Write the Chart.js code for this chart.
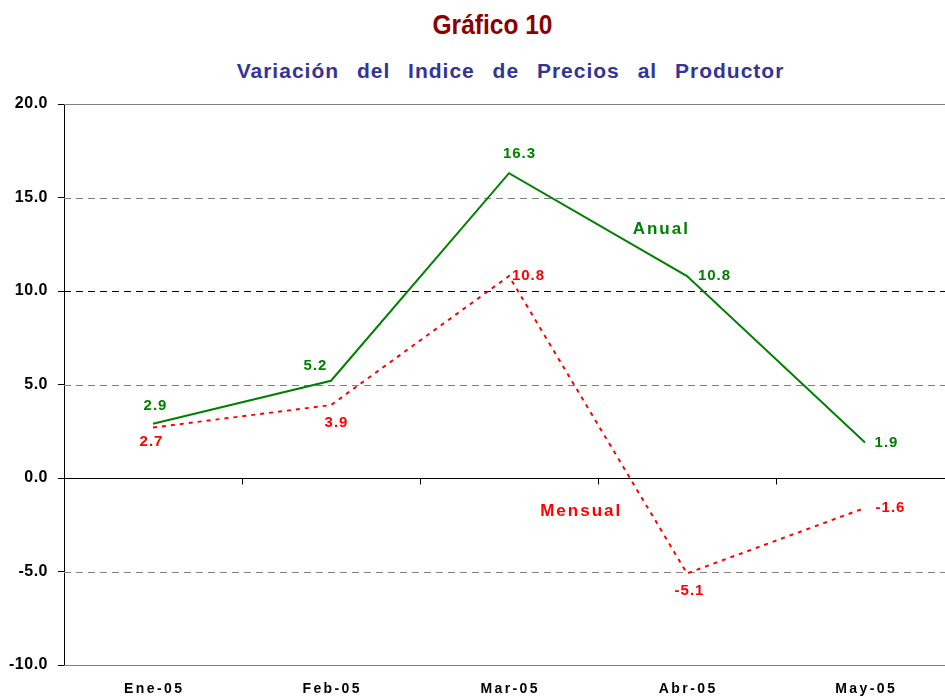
<!DOCTYPE html>
<html>
<head>
<meta charset="utf-8">
<script src="https://cdn.jsdelivr.net/npm/chart.js@4/dist/chart.umd.min.js"></script>
<style>
  body { margin: 0; width: 945px; height: 700px; overflow: hidden; background: #fff; position: relative; }
  #title { position: absolute; top: 11px; left: 20px; width: 945px; text-align: center;
    font-family: "Liberation Sans", Arial, sans-serif; line-height: 28px;
    font-weight: bold; font-size: 28px; color: #8b0000; transform: scaleX(0.876); }
  #subtitle { position: absolute; top: 60px; left: 38px; width: 945px; text-align: center;
    font-family: "Liberation Sans", Arial, sans-serif; font-weight: bold; font-size: 21px; line-height: 21px;
    letter-spacing: 1px; word-spacing: 11px; color: #333399; }
  #wrap { position: absolute; top: 0; left: 0; width: 960px; height: 700px; }
</style>
</head>
<body>
<div id="title">Gráfico 10</div>
<div id="subtitle">Variación del Indice de Precios al Productor</div>
<div id="wrap"><canvas id="chart"></canvas></div>
<script>
const months = ['Ene-05', 'Feb-05', 'Mar-05', 'Abr-05', 'May-05'];
const anual = [2.9, 5.2, 16.3, 10.8, 1.9];
const mensual = [2.7, 3.9, 10.8, -5.1, -1.6];
const yTicks = [20, 15, 10, 5, 0, -5, -10];

// label offsets (px) from each point
const anualOffsets = [[2, -18], [-16, -15], [10, -19], [27, 0], [21, 0]];
const mensualOffsets = [[-2, 14], [5, 18], [19, 0], [2, 17], [25, 0]];

const FONT = '"Liberation Sans", Arial, sans-serif';

const spacing = {
  id: 'spacing',
  beforeDraw(chart) { chart.ctx.letterSpacing = '0.5px'; }
};

const gridLines = {
  id: 'gridLines',
  beforeDatasetsDraw(chart) {
    const { ctx, chartArea, scales } = chart;
    const y = scales.y, x = scales.x;
    ctx.save();
    yTicks.forEach(v => {
      const py = Math.round(y.getPixelForValue(v)) + 0.5;
      let color = '#808080', dash = [7, 5];
      if (v === 20 || v === -10) dash = [];
      if (v === 0) { color = '#000'; dash = []; }
      if (v === 10) color = '#000';
      ctx.strokeStyle = color;
      ctx.lineWidth = 1;
      ctx.setLineDash(dash);
      ctx.beginPath();
      ctx.moveTo(chartArea.left, py);
      ctx.lineTo(chartArea.right, py);
      ctx.stroke();
    });
    // category tick marks on the zero line
    const zy = Math.round(y.getPixelForValue(0)) + 0.5;
    ctx.setLineDash([]);
    ctx.strokeStyle = '#000';
    for (let i = 1; i < months.length; i++) {
      const px = Math.round((x.getPixelForTick(i - 1) + x.getPixelForTick(i)) / 2) + 0.5;
      ctx.beginPath();
      ctx.moveTo(px, zy);
      ctx.lineTo(px, zy + 6);
      ctx.stroke();
    }
    ctx.restore();
  }
};

const labels = {
  id: 'labels',
  afterDatasetsDraw(chart) {
    const { ctx, scales, chartArea } = chart;
    ctx.save();
    ctx.textAlign = 'center';
    ctx.textBaseline = 'middle';

    ctx.letterSpacing = '1px';
    ctx.font = 'bold 15px ' + FONT;
    const sets = [[anual, anualOffsets, '#008000'], [mensual, mensualOffsets, '#ff0000']];
    sets.forEach(([vals, offs, color], di) => {
      const meta = chart.getDatasetMeta(di);
      ctx.fillStyle = color;
      vals.forEach((v, i) => {
        const p = meta.data[i];
        ctx.fillText(v.toFixed(1), p.x + offs[i][0] + 0.5, p.y + offs[i][1]);
      });
    });

    ctx.font = 'bold 17px ' + FONT;
    ctx.letterSpacing = '2px';
    ctx.fillStyle = '#008000';
    ctx.fillText('Anual', scales.x.getPixelForValue(2.85) + 1, scales.y.getPixelForValue(13.3));
    ctx.fillStyle = '#ff0000';
    ctx.fillText('Mensual', scales.x.getPixelForValue(2.4) + 1, scales.y.getPixelForValue(-1.8));

    // category labels
    ctx.font = 'bold 14px ' + FONT;
    ctx.letterSpacing = '2.4px';
    ctx.fillStyle = '#000';
    months.forEach((m, i) => {
      ctx.fillText(m, scales.x.getPixelForTick(i) + 1.2, chartArea.bottom + 24);
    });
    ctx.restore();
  }
};

new Chart(document.getElementById('chart'), {
  type: 'line',
  data: {
    labels: months,
    datasets: [
      { label: 'Anual', data: anual, borderColor: '#008000', borderWidth: 2,
        pointRadius: 0, tension: 0, fill: false },
      { label: 'Mensual', data: mensual, borderColor: '#ff0000', borderWidth: 2,
        borderDash: [4, 5], pointRadius: 0, tension: 0, fill: false }
    ]
  },
  options: {
    responsive: true,
    maintainAspectRatio: false,
    animation: false,
    layout: { padding: { top: 104, left: 0, right: 6, bottom: 0 } },
    plugins: { legend: { display: false }, tooltip: { enabled: false } },
    scales: {
      x: {
        offset: true,
        grid: { display: false, drawTicks: false },
        border: { display: false },
        ticks: { display: false },
        afterFit(s) { s.height = 35; }
      },
      y: {
        min: -10, max: 20,
        afterBuildTicks(s) { s.ticks = yTicks.map(v => ({ value: v })); },
        grid: { drawOnChartArea: false, drawTicks: true, tickLength: 6, tickColor: '#000' },
        border: { color: '#000', width: 1 },
        ticks: { color: '#000', padding: 10, font: { family: FONT, size: 16, weight: 'bold' },
          callback: v => v.toFixed(1) },
        afterFit(s) { s.width = 64; }
      }
    }
  },
  plugins: [spacing, gridLines, labels]
});
</script>
</body>
</html>
